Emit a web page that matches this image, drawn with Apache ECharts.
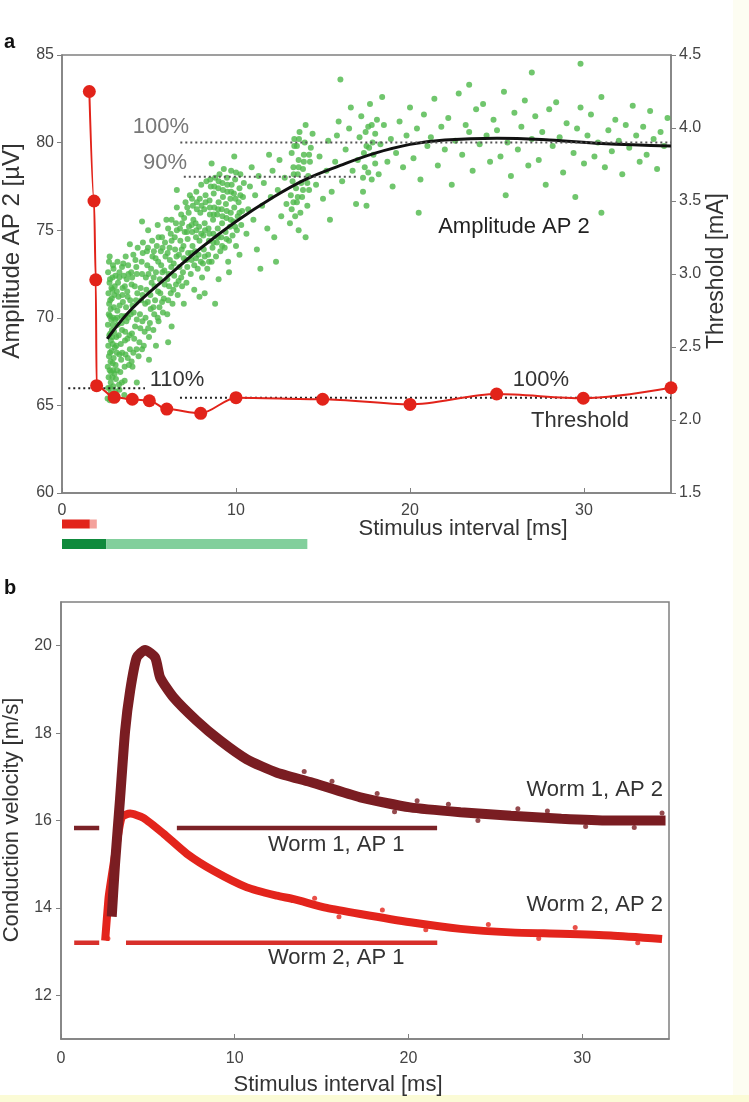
<!DOCTYPE html>
<html>
<head>
<meta charset="utf-8">
<title>Stimulus interval</title>
<script src="https://cdn.jsdelivr.net/npm/echarts@6/dist/echarts.min.js"></script>
<style>
html,body{margin:0;padding:0;background:#fff;}
#chart{width:749px;height:1102px;}
</style>
</head>
<body>
<div id="chart"></div>
<script>
// ---- panel a: amplitude of AP 2 (green dots, left axis) ----
var ampPoints = [
  [2.62,65.4],[2.65,66.0],[2.68,66.6],[2.63,67.2],[2.7,67.8],[2.66,68.4],[2.72,69.0],[2.64,69.6],[2.69,70.2],[2.71,70.8],[2.67,71.4],[2.73,72.0],[2.65,72.6],[2.7,73.2],
  [2.78,65.7],[2.8,66.3],[2.82,66.9],[2.79,67.5],[2.85,68.1],[2.81,68.7],[2.87,69.3],[2.83,69.9],[2.8,70.5],[2.86,71.1],[2.84,71.7],[2.9,72.3],
  [2.88,65.5],[2.95,66.1],[2.93,67.0],[2.97,67.7],[2.92,68.5],[2.99,69.2],[2.94,70.0],[2.98,70.6],[3.0,71.3],[2.96,72.8],
  [3.05,65.8],[3.1,66.5],[3.08,67.3],[3.15,68.0],[3.12,68.9],[3.2,69.6],[3.18,70.4],[3.25,71.2],[3.22,72.0],[3.3,72.6],
  [3.35,66.9],[3.4,67.6],[3.38,68.5],[3.45,69.3],[3.42,70.1],[3.5,70.9],[3.48,71.7],[3.55,72.4],[3.52,73.1],
  [3.6,66.4],[3.65,67.9],[3.62,68.7],[3.7,69.8],[3.68,70.6],[3.75,71.5],[3.72,72.2],[3.8,73.0],
  [3.85,67.3],[3.9,68.2],[3.88,69.0],[3.95,70.2],[3.92,71.0],[4.0,71.9],[3.98,72.6],[3.3,65.9],[3.58,65.6],
  [4.05,67.2],[4.1,68.0],[4.15,68.8],[4.2,69.5],[4.12,70.3],[4.25,71.0],[4.18,71.8],[4.3,72.5],[4.22,73.3],[4.35,74.0],
  [4.4,67.8],[4.45,68.6],[4.5,69.4],[4.48,70.2],[4.55,71.0],[4.52,71.7],[4.6,72.5],[4.58,73.2],[4.65,74.3],
  [4.7,68.4],[4.75,69.2],[4.8,70.0],[4.78,70.8],[4.85,71.6],[4.82,72.3],[4.9,73.0],[4.88,73.8],[4.95,75.0],
  [5.0,68.9],[5.05,69.7],[5.1,70.5],[5.08,71.3],[5.15,72.0],[5.12,72.8],[5.2,73.5],[5.18,74.4],
  [5.25,69.3],[5.3,70.2],[5.35,71.0],[5.32,71.8],[5.4,72.6],[5.38,73.4],[5.45,74.1],[5.5,75.3],
  [5.55,69.8],[5.6,70.6],[5.65,71.4],[5.62,72.2],[5.7,73.0],[5.68,73.8],[5.75,74.6],
  [5.8,70.3],[5.85,71.1],[5.9,71.9],[5.88,72.7],[5.95,73.5],[5.92,74.3],[6.0,75.6],
  [4.3,66.3],[5.0,67.6],[4.6,75.5],[5.4,68.4],[3.9,74.2],
  [6.05,70.2],[6.1,71.0],[6.15,71.8],[6.12,72.5],[6.2,73.3],[6.18,74.0],[6.25,74.8],[6.3,75.6],
  [6.35,70.8],[6.4,71.6],[6.45,72.4],[6.42,73.1],[6.5,73.9],[6.48,74.6],[6.55,75.4],[6.6,76.3],
  [6.65,71.3],[6.7,72.1],[6.75,72.9],[6.72,73.6],[6.8,74.4],[6.78,75.1],[6.85,75.9],
  [6.9,71.8],[6.95,72.6],[7.0,73.4],[6.98,74.1],[7.05,74.9],[7.02,75.7],[7.1,76.6],
  [7.15,72.0],[7.2,72.9],[7.25,73.7],[7.22,74.5],[7.3,75.2],[7.28,76.0],[7.35,77.0],
  [7.4,72.5],[7.45,73.3],[7.5,74.1],[7.48,74.9],[7.55,75.6],[7.52,76.4],
  [7.6,73.0],[7.65,73.8],[7.7,74.6],[7.68,75.4],[7.75,76.2],[7.72,77.2],
  [7.8,72.8],[7.85,73.6],[7.9,74.4],[7.88,75.2],[7.95,76.0],[7.92,76.8],[8.0,77.6],
  [6.3,69.5],[7.0,70.8],[7.6,71.6],[6.6,77.3],[7.9,71.2],[6.1,68.6],
  [8.05,72.3],[8.1,73.1],[8.15,73.9],[8.12,74.7],[8.2,75.4],[8.18,76.2],[8.25,77.0],[8.3,77.8],
  [8.35,72.8],[8.4,73.6],[8.45,74.4],[8.42,75.1],[8.5,75.9],[8.48,76.7],[8.55,77.5],
  [8.6,73.2],[8.65,74.0],[8.7,74.8],[8.68,75.6],[8.75,76.3],[8.72,77.1],[8.8,78.0],
  [8.85,73.5],[8.9,74.3],[8.95,75.1],[8.92,75.9],[9.0,76.6],[8.98,77.4],[9.05,78.2],
  [9.1,73.8],[9.15,74.6],[9.2,75.4],[9.18,76.2],[9.25,76.9],[9.22,77.7],[9.3,78.5],
  [9.35,74.0],[9.4,74.9],[9.45,75.7],[9.42,76.5],[9.5,77.2],[9.48,78.0],
  [9.55,73.2],[9.6,74.4],[9.65,75.2],[9.7,76.0],[9.68,76.8],[9.75,77.6],[9.72,78.4],
  [9.8,74.7],[9.85,75.5],[9.9,76.3],[9.88,77.1],[9.95,77.9],
  [10.0,74.1],[10.05,75.0],[10.1,75.8],[10.15,76.6],[10.2,77.4],[10.25,78.2],
  [10.3,75.3],[10.35,76.1],[10.4,76.9],[10.45,77.7],
  [8.2,71.4],[9.0,72.2],[9.6,72.6],[10.2,73.6],[8.6,78.8],[9.9,79.2],[8.8,70.8],
  [2.75,65.3],[2.77,66.0],[2.74,67.0],[2.76,68.0],[2.78,69.1],[2.75,70.1],[2.77,71.0],[2.76,72.2],[2.74,73.5],
  [2.9,66.6],[2.91,67.4],[2.89,68.9],[2.92,69.6],[2.9,71.6],[2.93,73.0],
  [3.02,66.8],[3.04,68.3],[3.06,69.9],[3.03,71.8],[3.07,72.4],
  [3.14,65.6],[3.16,67.0],[3.13,68.4],[3.17,70.0],[3.15,71.5],[3.19,73.2],
  [3.28,66.2],[3.3,67.9],[3.26,69.0],[3.31,70.7],[3.29,72.3],
  [3.44,66.3],[3.46,68.0],[3.43,69.7],[3.47,71.3],[3.45,72.9],
  [3.6,67.2],[3.63,69.2],[3.64,70.1],[3.61,71.8],[3.66,73.5],
  [3.78,67.7],[3.76,68.8],[3.8,70.0],[3.77,71.2],[3.82,72.5],
  [4.0,67.5],[4.02,69.1],[4.05,70.7],[4.03,72.3],[4.1,73.6],
  [4.28,68.2],[4.3,69.9],[4.33,71.4],[4.27,72.9],
  [4.6,68.2],[4.62,69.8],[4.63,71.3],[4.64,73.7],
  [4.95,69.4],[4.93,70.9],[4.97,72.5],[4.94,74.0],
  [5.25,70.6],[5.27,72.3],[5.28,73.8],[5.5,70.0],[5.52,71.5],[5.53,73.2],[5.55,74.6],
  [5.75,70.9],[5.77,72.6],[5.78,74.0],
  [6.05,72.2],[6.07,73.7],[6.1,75.1],[6.25,71.4],[6.28,72.9],[6.3,74.4],
  [6.55,71.9],[6.58,73.5],[6.6,75.0],[6.85,72.3],[6.88,73.9],[6.9,75.4],
  [7.15,73.3],[7.18,74.9],[7.2,76.3],[7.42,73.7],[7.45,75.3],[7.47,76.8],
  [7.7,73.4],[7.72,75.0],[7.75,76.6],[7.98,73.2],[8.0,74.8],[8.02,76.4],
  [8.2,73.5],[8.22,75.0],[8.25,76.6],[8.45,73.2],[8.47,74.8],[8.5,76.3],[8.52,77.9],
  [8.7,74.3],[8.72,75.9],[8.75,77.5],[8.95,74.6],[8.97,76.2],[9.0,77.8],
  [9.2,74.1],[9.22,75.8],[9.25,77.3],[9.45,74.5],[9.47,76.1],[9.5,77.6],
  [9.7,75.6],[9.72,77.2],[9.95,75.2],[9.97,76.8],[10.0,78.3],[10.2,76.0],[10.25,77.0],
  [10.6,74.8],[10.7,76.2],[10.8,77.5],[10.9,78.6],[11.0,75.6],[11.1,77.0],[11.2,73.9],[11.3,78.1],
  [11.5,76.4],[11.6,77.7],[11.8,75.1],[11.9,79.3],[12.0,76.9],[12.1,78.4],[12.3,73.2],[12.4,77.3],
  [12.5,79.0],[12.6,75.8],[12.8,78.0],[12.9,76.5],[11.4,72.8],[12.2,74.6],
  [13.1,75.4],[13.2,76.2],[13.15,77.0],[13.25,77.8],[13.3,78.6],[13.2,79.4],[13.35,80.2],
  [13.4,75.8],[13.5,76.6],[13.45,77.4],[13.55,78.2],[13.6,79.0],[13.5,79.8],[13.65,80.6],
  [13.7,76.0],[13.8,76.9],[13.75,77.7],[13.85,78.5],[13.9,79.3],[13.95,80.0],[14.0,81.0],
  [14.1,76.4],[14.2,77.3],[14.15,78.1],[14.25,78.9],[14.3,79.7],[14.4,80.5],[14.0,74.6],[13.6,75.0],
  [13.3,76.6],[13.32,78.2],[13.35,79.8],[13.55,76.9],[13.6,78.6],[13.62,80.2],[13.85,77.3],[13.9,78.9],[14.1,77.7],[14.2,79.3],
  [14.6,77.6],[14.8,79.2],[15.0,76.8],[15.2,78.4],[15.3,80.1],[15.5,77.2],[15.7,78.9],[15.9,81.2],
  [16.0,83.6],[15.4,75.6],[15.8,80.4],
  [16.1,77.8],[16.3,79.6],[16.5,80.8],[16.7,78.4],[16.9,76.5],[17.0,79.0],[17.1,80.3],[17.2,81.5],
  [17.3,77.2],[17.4,78.6],[17.5,79.8],[17.6,80.9],[17.7,82.2],[17.8,77.9],[17.9,79.3],[18.0,80.5],
  [18.1,81.3],[18.2,78.2],[18.3,79.9],[18.5,81.0],[18.7,78.9],[18.9,80.2],[17.5,76.4],[18.4,82.6],[16.6,82.0],
  [17.3,78.0],[17.35,79.4],[17.45,80.6],[17.6,78.3],[17.65,79.7],[17.8,81.0],[17.85,80.0],[18.0,78.8],
  [19.2,79.4],[19.4,81.2],[19.6,78.6],[19.8,80.4],[20.0,82.0],[20.2,79.1],[20.4,80.8],[20.6,77.9],
  [20.8,81.6],[21.0,79.8],[21.2,80.3],[21.4,82.5],[21.6,78.7],[21.8,80.9],[22.0,79.6],[22.2,81.4],
  [22.4,77.6],[22.6,80.1],[22.8,82.8],[23.0,79.3],[23.2,81.0],[23.4,80.6],[23.6,78.4],[23.8,81.9],
  [24.0,79.9],[24.2,82.2],[24.4,80.4],[24.6,78.9],[24.8,81.3],[25.0,80.7],[25.2,79.2],[25.4,82.9],
  [25.6,80.0],[25.8,78.1],[26.0,81.7],[26.2,79.6],[26.4,80.9],[26.6,82.4],[26.8,78.7],[27.0,80.2],
  [27.2,81.5],[27.4,79.0],[27.6,80.6],[27.8,77.6],[28.0,81.9],[28.2,79.8],[28.4,82.3],[28.6,80.3],
  [28.8,78.3],[29.0,81.1],[29.8,84.5],[29.4,79.4],[29.6,80.8],[29.8,82.0],[30.0,78.8],[30.2,80.4],
  [30.4,81.6],[30.6,79.2],[30.8,80.0],[31.0,82.6],[31.2,78.6],[31.4,80.7],[31.6,79.5],[31.8,81.3],
  [32.0,80.1],[32.2,78.2],[32.4,81.0],[32.6,79.7],[32.8,82.1],[33.0,80.4],[33.2,78.9],[33.4,80.9],
  [33.6,79.3],[33.8,81.8],[34.0,80.2],[34.2,78.5],[34.4,80.6],[34.6,79.8],[34.8,81.4],
  [19.0,77.5],[20.5,76.0],[25.5,77.0],[29.5,76.9],[31.0,76.0],[27.0,84.0],[23.4,83.3]
];
var fitX = [2.6, 4, 6, 8, 10, 12, 14, 16, 18, 20, 22, 25, 28, 31, 35];
var fitY = [68.8, 70.5, 72.3, 74.0, 75.5, 76.8, 77.9, 78.7, 79.4, 79.9, 80.15, 80.25, 80.15, 79.95, 79.8];
var amp100 = [[6.8, 80.0], [35, 80.0]];
var amp90 = [[7.0, 78.05], [16.9, 78.05]];

// ---- panel a: threshold (red, right axis) ----
var thrX = [1.57, 1.84, 1.94, 1.99, 3.0, 4.04, 5.02, 6.02, 7.97, 10.0, 14.98, 20.0, 24.98, 29.96, 35.0];
var thrY = [4.25, 3.50, 2.96, 2.235, 2.155, 2.142, 2.132, 2.075, 2.046, 2.153, 2.142, 2.107, 2.178, 2.149, 2.221];
var thr110 = [[0.36, 2.217], [4.77, 2.217]];
var thr100 = [[6.78, 2.153], [35, 2.153]];

// bars under panel a [start, end] in ms
var redDark = [0, 1.6], redLight = [1.6, 2.0];
var greenDark = [0, 2.55], greenLight = [2.55, 14.1];

// ---- panel b: conduction velocity ----
var w1X = [2.92, 3.11, 3.40, 3.69, 3.98, 4.36, 4.84, 5.42, 5.71, 6.47, 7.82, 9.16, 10.7, 12.4, 14.35, 17.23, 20.1, 23.0, 25.9, 28.8, 31.6, 34.8];
var w1Y = [13.8, 15.0, 16.5, 18.05, 18.97, 19.73, 19.9, 19.73, 19.27, 18.82, 18.28, 17.83, 17.4, 17.1, 16.88, 16.53, 16.30, 16.19, 16.11, 16.04, 16.0, 16.0];
var w2X = [2.54, 2.73, 2.82, 3.21, 3.50, 3.98, 4.74, 5.9, 7.24, 8.78, 10.7, 12.43, 13.4, 15.3, 17.23, 20.12, 23.0, 25.88, 28.76, 31.64, 34.6];
var w2Y = [13.25, 14.2, 14.47, 15.47, 16.08, 16.16, 16.06, 15.70, 15.24, 14.85, 14.47, 14.28, 14.2, 14.0, 13.86, 13.67, 13.52, 13.44, 13.41, 13.37, 13.29];
var w1Dots = [[3.0,13.9],[2.95,14.2],[3.05,14.6],[14.0,17.12],[15.6,16.9],[18.2,16.62],[20.5,16.45],[22.3,16.37],[24.0,16.0],[26.3,16.27],[28.0,16.22],[30.2,15.86],[33.0,15.84],[34.6,16.17],[19.2,16.2]];
var w2Dots = [[2.7,13.3],[2.75,13.9],[14.6,14.22],[16.0,13.8],[18.5,13.95],[21.0,13.5],[24.6,13.62],[27.5,13.3],[29.6,13.55],[33.2,13.2]];
var w1Ap1 = [[0.75, 15.83], [2.2, 15.83], [4, '-'], [6.67, 15.83], [21.65, 15.83]];
var w2Ap1 = [[0.76, 13.2], [2.2, 13.2], [3, '-'], [3.74, 13.2], [21.66, 13.2]];

var xTicks = [0, 10, 20, 30];
var vTicks = [12, 14, 16, 18, 20];

function zip(xs, ys) {
  var out = [];
  for (var i = 0; i < xs.length; i++) out.push([xs[i], ys[i]]);
  return out;
}

var FONT = '"Liberation Sans", Arial, sans-serif';
var axisCol = '#808080';
var labelStyle = { color: '#444', fontSize: 16, fontFamily: FONT };

var myChart = echarts.init(document.getElementById('chart'));

function txt(x, y, s, size, color, align, rot, bold) {
  return {
    type: 'text', x: x, y: y, rotation: rot || 0, z: 100,
    style: {
      text: s, fill: color || '#222', align: align || 'left', verticalAlign: 'middle',
      font: (bold ? 'bold ' : '') + size + 'px ' + FONT
    }
  };
}

var option = {
  animation: false,
  backgroundColor: '#fff',
  grid: [
    { left: 62, top: 55, width: 609, height: 438, show: true, borderColor: axisCol, borderWidth: 1.5 },
    { left: 62, top: 514, width: 609, height: 40 },
    { left: 61, top: 602, width: 608, height: 437, show: true, borderColor: axisCol, borderWidth: 1.5 }
  ],
  xAxis: [
    { gridIndex: 0, type: 'value', min: 0, max: 35,
      axisLine: { lineStyle: { color: axisCol, width: 1.5 } },
      axisTick: { inside: true, length: 5, customValues: xTicks, lineStyle: { color: axisCol } },
      axisLabel: Object.assign({ customValues: xTicks, margin: 10 }, labelStyle),
      splitLine: { show: false } },
    { gridIndex: 1, type: 'value', min: 0, max: 35, show: false },
    { gridIndex: 2, type: 'value', min: 0, max: 35,
      axisLine: { lineStyle: { color: axisCol, width: 1.5 } },
      axisTick: { inside: true, length: 5, customValues: xTicks, lineStyle: { color: axisCol } },
      axisLabel: Object.assign({ customValues: xTicks, margin: 12 }, labelStyle),
      splitLine: { show: false } }
  ],
  yAxis: [
    { gridIndex: 0, type: 'value', min: 60, max: 85, interval: 5,
      axisLine: { show: true, lineStyle: { color: axisCol, width: 1.5 } },
      axisTick: { show: true, length: 5, lineStyle: { color: axisCol } },
      axisLabel: Object.assign({ margin: 8 }, labelStyle),
      splitLine: { show: false } },
    { gridIndex: 0, type: 'value', position: 'right', min: 1.5, max: 4.5, interval: 0.5,
      axisLine: { show: true, lineStyle: { color: axisCol, width: 1.5 } },
      axisTick: { show: true, length: 5, lineStyle: { color: axisCol } },
      axisLabel: Object.assign({ margin: 8, formatter: function (v) { return v.toFixed(1); } }, labelStyle),
      splitLine: { show: false } },
    { gridIndex: 1, type: 'value', min: 0, max: 4, show: false },
    { gridIndex: 2, type: 'value', min: 11, max: 21,
      axisLine: { show: true, lineStyle: { color: axisCol, width: 1.5 } },
      axisTick: { show: true, length: 5, customValues: vTicks, lineStyle: { color: axisCol } },
      axisLabel: Object.assign({ margin: 9, customValues: vTicks }, labelStyle),
      splitLine: { show: false } }
  ],
  series: [
    // panel a
    { name: 'Amplitude AP 2', type: 'scatter', xAxisIndex: 0, yAxisIndex: 0, data: ampPoints,
      symbolSize: 6, itemStyle: { color: '#4cb848' }, z: 2 },
    { name: 'fit', type: 'line', xAxisIndex: 0, yAxisIndex: 0, data: zip(fitX, fitY), smooth: 0.4,
      symbol: 'none', lineStyle: { color: '#111', width: 3 }, z: 3 },
    { type: 'line', xAxisIndex: 0, yAxisIndex: 0, data: amp100, symbol: 'none',
      lineStyle: { color: '#555', width: 2, type: [2, 3] }, z: 3 },
    { type: 'line', xAxisIndex: 0, yAxisIndex: 0, data: amp90, symbol: 'none',
      lineStyle: { color: '#555', width: 2, type: [2, 3] }, z: 3 },
    { type: 'line', xAxisIndex: 0, yAxisIndex: 1, data: thr110, symbol: 'none',
      lineStyle: { color: '#222', width: 2, type: [2, 3] }, z: 3 },
    { type: 'line', xAxisIndex: 0, yAxisIndex: 1, data: thr100, symbol: 'none',
      lineStyle: { color: '#222', width: 2, type: [2, 3] }, z: 3 },
    { name: 'Threshold', type: 'line', xAxisIndex: 0, yAxisIndex: 1, data: zip(thrX, thrY),
      smooth: 0.3, smoothMonotone: 'x', symbol: 'circle', symbolSize: 13, clip: false,
      lineStyle: { color: '#e2231a', width: 2 }, itemStyle: { color: '#e2231a' }, z: 4 },
    // bars
    { type: 'line', xAxisIndex: 1, yAxisIndex: 2, symbol: 'none', data: [[redDark[0], 3], [redDark[1], 3]],
      lineStyle: { color: '#e2231a', width: 9, cap: 'butt' } },
    { type: 'line', xAxisIndex: 1, yAxisIndex: 2, symbol: 'none', data: [[redLight[0], 3], [redLight[1], 3]],
      lineStyle: { color: '#f4a19b', width: 9, cap: 'butt' } },
    { type: 'line', xAxisIndex: 1, yAxisIndex: 2, symbol: 'none', data: [[greenDark[0], 1], [greenDark[1], 1]],
      lineStyle: { color: '#0f8a3c', width: 10, cap: 'butt' } },
    { type: 'line', xAxisIndex: 1, yAxisIndex: 2, symbol: 'none', data: [[greenLight[0], 1], [greenLight[1], 1]],
      lineStyle: { color: '#82cf9c', width: 10, cap: 'butt' } },
    // panel b
    { name: 'Worm 1, AP 1', type: 'line', xAxisIndex: 2, yAxisIndex: 3, data: w1Ap1, symbol: 'none',
      lineStyle: { color: '#7b2227', width: 4.5, cap: 'butt' } },
    { name: 'Worm 2, AP 1', type: 'line', xAxisIndex: 2, yAxisIndex: 3, data: w2Ap1, symbol: 'none',
      lineStyle: { color: '#d8302b', width: 4.5, cap: 'butt' } },
    { name: 'Worm 2, AP 2', type: 'line', xAxisIndex: 2, yAxisIndex: 3, data: zip(w2X, w2Y), smooth: 0.2,
      symbol: 'none', lineStyle: { color: '#e3241c', width: 8 }, z: 3 },
    { type: 'scatter', xAxisIndex: 2, yAxisIndex: 3, data: w2Dots, symbolSize: 5,
      itemStyle: { color: '#e3241c' }, z: 3 },
    { name: 'Worm 1, AP 2', type: 'line', xAxisIndex: 2, yAxisIndex: 3, data: zip(w1X, w1Y), smooth: 0.2,
      symbol: 'none', lineStyle: { color: '#7a1d22', width: 10 }, z: 4 },
    { type: 'scatter', xAxisIndex: 2, yAxisIndex: 3, data: w1Dots, symbolSize: 5,
      itemStyle: { color: '#7a1d22' }, z: 4 }
  ],
  graphic: [
    { type: 'rect', shape: { x: 733, y: 0, width: 16, height: 1102 }, style: { fill: '#fdfdf2' }, z: 0 },
    { type: 'rect', shape: { x: 0, y: 1095, width: 749, height: 7 }, style: { fill: '#fbfbd6' }, z: 0 },
    txt(4, 42, 'a', 20, '#111', 'left', 0, true),
    txt(4, 588, 'b', 20, '#111', 'left', 0, true),
    txt(12, 251, 'Amplitude AP 2 [\u00b5V]', 24, '#333', 'center', Math.PI / 2),
    txt(717, 271, 'Threshold [mA]', 23, '#333', 'center', Math.PI / 2),
    txt(463, 529, 'Stimulus interval [ms]', 22, '#333', 'center'),
    txt(12, 820, 'Conduction velocity [m/s]', 22, '#333', 'center', Math.PI / 2),
    txt(338, 1085, 'Stimulus interval [ms]', 22, '#333', 'center'),
    txt(161, 127, '100%', 22, '#777', 'center'),
    txt(165, 163, '90%', 22, '#777', 'center'),
    txt(514, 227, 'Amplitude AP 2', 22, '#222', 'center'),
    txt(177, 380, '110%', 22, '#333', 'center'),
    txt(541, 380, '100%', 22, '#333', 'center'),
    txt(580, 421, 'Threshold', 22, '#333', 'center'),
    txt(663, 790, 'Worm 1, AP 2', 22, '#333', 'right'),
    txt(268, 845, 'Worm 1, AP 1', 22, '#333', 'left'),
    txt(663, 905, 'Worm 2, AP 2', 22, '#333', 'right'),
    txt(268, 958, 'Worm 2, AP 1', 22, '#333', 'left')
  ]
};

myChart.setOption(option);
</script>
</body>
</html>
